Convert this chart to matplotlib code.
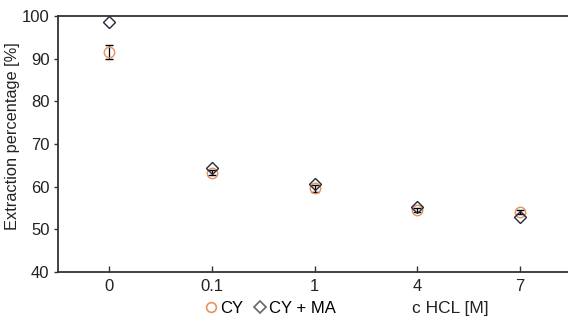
import matplotlib.pyplot as plt
from matplotlib.lines import Line2D

plt.rcParams['font.family'] = ['Liberation Sans', 'DejaVu Sans']

conc = ["0", "0.1", "1", "4", "7"]
cy = [91.5, 63.2, 59.6, 54.5, 54.0]
cy_err = [1.7, 0.6, 0.8, 0.5, 0.5]
cyma = [98.6, 64.4, 60.6, 55.1, 52.9]

orange = "#e8915c"
dark = "#242a3a"
txt = "#222222"

fig = plt.figure(figsize=(5.68, 3.30), dpi=100)
ax = fig.add_axes([0.102, 0.176, 0.898, 0.776])

x = list(range(len(conc)))
ax.errorbar(x, cy, yerr=cy_err, fmt="o", mfc="none", mec=orange, mew=1.0,
            ms=7.5, ecolor="black", elinewidth=0.9, capsize=3, capthick=0.9, zorder=3)
ax.plot(x, cyma, "D", mfc="none", mec=dark, mew=1.0, ms=6, zorder=4)

ax.set_xlim(-0.5, 4.47)
ax.set_ylim(40, 100)
ax.set_xticks(x)
ax.set_xticklabels(conc)
ax.set_yticks(range(40, 101, 10))
ax.tick_params(axis="x", direction="in", length=4, width=1, color="#333333",
               labelsize=12, pad=5, labelcolor=txt)
ax.tick_params(axis="y", direction="out", length=3, width=1, color="#333333",
               labelsize=12, pad=3, labelcolor=txt)
ax.spines["right"].set_visible(False)
for s in ["left", "bottom", "top"]:
    ax.spines[s].set_color("#333333")
    ax.spines[s].set_linewidth(1.3)

ax.set_ylabel("Extraction percentage [%]", fontsize=11.8, color=txt)
ax.yaxis.set_label_coords(-0.074, 0.53)

handles = [
    Line2D([], [], marker="o", ls="none", mfc="none", mec=orange, mew=1.2, ms=7),
    Line2D([], [], marker="D", ls="none", mfc="none", mec="#666666", mew=1.2, ms=6),
]
fig.legend(handles, ["CY", "CY + MA"], loc="center", bbox_to_anchor=(0.474, 0.066),
           ncol=2, frameon=False, fontsize=12, handletextpad=0.05, columnspacing=0.5,
           handlelength=1.0)
fig.text(0.792, 0.066, "c HCL [M]", ha="center", va="center", fontsize=12.5, color=txt)

fig.savefig("out.png", dpi=100)
